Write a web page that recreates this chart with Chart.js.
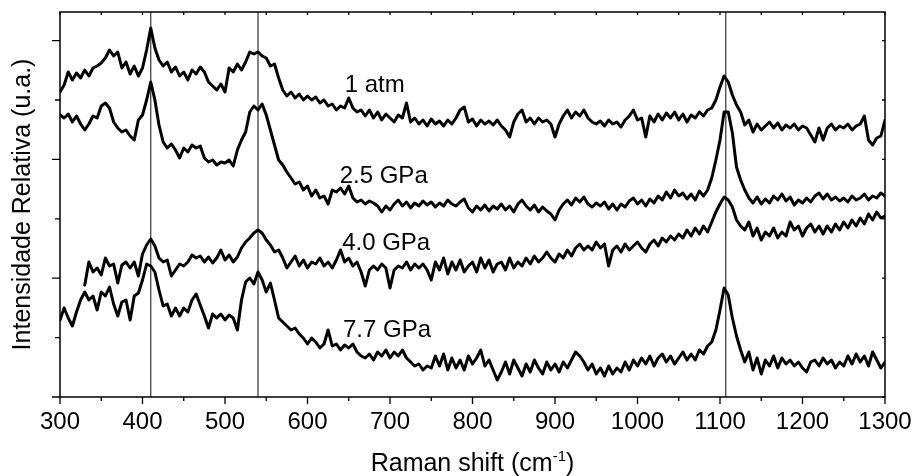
<!DOCTYPE html>
<html>
<head>
<meta charset="utf-8">
<script src="https://cdn.jsdelivr.net/npm/chart.js@4/dist/chart.umd.min.js"></script>
<style>
  html, body { margin: 0; padding: 0; background: #fff; }
  #wrap { width: 914px; height: 476px; }
</style>
</head>
<body>
<div id="wrap"><canvas id="raman" width="914" height="476"></canvas></div>
<script>
// Raman shift grid (cm-1), one reading every 5 cm-1
const shift = [];
for (let x = 300; x <= 1300; x += 5) shift.push(x);

// intensities (arbitrary units, stacked offsets as in the figure)
const atm1 = [
  305,312,325,317,324,319,327,321,329,331,
  334,339,347,341,345,329,335,323,331,321,
  329,347,369,349,337,331,335,325,330,321,
  325,317,327,323,330,325,315,311,307,313,
  305,329,325,333,327,335,345,343,345,341,
  339,331,333,319,307,301,305,299,303,297,
  301,297,300,294,297,291,293,287,291,289,
  299,289,285,287,281,287,279,285,277,283,
  279,275,282,279,294,275,279,273,277,271,
  278,273,276,271,277,273,279,287,290,275,
  278,271,277,273,276,272,277,271,267,260,
  275,283,287,275,279,273,279,275,277,273,
  260,273,281,287,279,285,281,287,279,275,
  273,276,271,277,273,275,270,277,281,287,
  277,279,260,281,275,283,277,284,279,285,
  277,283,275,282,279,285,281,287,289,297,
  310,321,315,302,292,285,272,277,265,273,
  267,271,275,269,274,267,272,269,273,267,
  271,269,262,255,269,257,269,273,267,271,
  269,273,267,271,273,281,257,252,259,261,
  277
];
const gpa25 = [
  282,279,283,275,281,273,267,273,281,279,
  291,294,289,275,269,265,267,261,257,277,
  282,297,315,297,272,255,249,253,247,239,
  249,245,252,249,251,239,235,237,232,235,
  234,237,231,247,257,265,285,291,287,293,
  282,267,252,237,232,225,219,213,215,207,
  211,201,207,199,201,193,207,205,209,203,
  211,199,195,197,193,196,194,191,185,191,
  187,193,197,191,195,189,194,191,196,192,
  195,190,194,191,197,193,191,195,198,189,
  185,191,187,192,186,191,188,193,187,191,
  185,193,197,191,187,192,185,190,186,183,
  177,187,193,197,192,199,195,200,193,190,
  194,191,195,188,193,187,193,190,196,199,
  193,197,191,198,194,201,197,205,199,207,
  201,204,198,203,197,206,201,207,219,237,
  257,285,285,264,230,217,207,199,194,200,
  193,198,194,201,197,203,196,200,192,197,
  194,199,195,201,204,198,203,197,200,196,
  199,195,201,197,199,203,197,201,199,204,
  201
];
const gpa40 = [
  null,null,null,null,null,null,112,135,125,129,
  122,139,131,133,114,132,135,129,135,121,
  143,152,158,151,139,135,137,121,127,133,
  131,135,142,139,141,135,140,134,139,147,
  137,142,135,140,149,155,159,164,167,164,
  157,152,145,147,139,129,135,141,131,137,
  129,135,133,139,131,135,129,137,147,135,
  139,131,135,125,111,127,131,127,133,129,
  109,127,131,129,135,127,133,129,133,127,
  117,135,127,139,123,135,127,137,125,131,
  135,125,139,129,137,125,133,135,127,139,
  129,135,131,139,133,141,135,139,145,139,
  135,143,139,147,141,149,153,147,151,147,
  155,149,153,131,147,151,145,153,147,151,
  155,149,145,153,157,151,159,155,161,157,
  163,159,167,161,169,163,171,165,175,185,
  193,200,197,190,177,171,167,175,161,169,
  157,165,161,169,159,165,161,175,167,171,
  161,169,173,165,171,163,171,165,173,167,
  175,169,177,171,179,173,183,177,185,179,
  181
];
const gpa77 = [
  77,89,79,71,85,97,105,97,101,87,
  105,101,110,93,81,95,97,77,101,104,
  117,133,131,125,107,91,93,81,89,81,
  89,85,97,103,92,81,69,83,79,83,
  77,82,79,67,97,115,119,113,125,117,
  105,114,97,79,75,71,67,69,63,59,
  53,59,55,49,53,67,51,53,47,52,
  49,53,45,41,39,43,37,45,41,47,
  39,45,41,47,39,35,31,33,27,31,
  29,41,31,43,27,39,29,37,27,41,
  33,39,47,31,37,27,17,25,35,23,
  37,29,21,33,25,37,29,23,35,27,
  33,25,35,29,37,45,41,35,27,33,
  23,29,21,31,23,29,25,35,27,37,
  31,39,33,41,31,39,43,35,41,33,
  39,45,37,43,37,47,43,51,55,67,
  87,109,102,79,61,47,35,45,27,39,
  23,37,31,41,29,39,33,37,31,35,
  29,25,35,37,31,39,33,37,29,35,
  31,41,33,43,35,41,31,45,37,29,
  35
];

const spectra = [atm1, gpa25, gpa40, gpa77];
const spectraNames = ['1 atm', '2.5 GPa', '4.0 GPa', '7.7 GPa'];
const labelX = [645, 639, 642, 643];
const labelY = [305, 214, 147, 60];

const peakLines = [410, 540, 1107];

const xTicks = [300, 400, 500, 600, 700, 800, 900, 1000, 1100, 1200, 1300];
const xMinorTicks = [350, 450, 550, 650, 750, 850, 950, 1050, 1150, 1250];
const yMajorTicks = [0, 118.8, 237.6, 356.4];
const yMinorTicks = [59.4, 178.2, 297];

const xTitle = 'Raman shift (cm';
const xTitleSup = '-1';
const yTitle = 'Intensidade Relativa (u.a.)';

const FONT = "'Liberation Sans', Arial, Helvetica, sans-serif";

function toPoints(values) {
    return values.map((v, i) => ({ x: shift[i], y: v }));
}

const datasets = spectra.map((vals, i) => ({
    label: spectraNames[i],
    data: toPoints(vals),
    borderColor: '#000',
    borderWidth: 3,
    borderJoinStyle: 'round',
    borderCapStyle: 'round',
    pointRadius: 0,
    tension: 0,
    spanGaps: false,
    order: 1
}));

peakLines.forEach(p => {
    datasets.push({
        label: 'peak ' + p,
        data: [{ x: p, y: 0 }, { x: p, y: 385 }],
        borderColor: '#333',
        borderWidth: 1.2,
        pointRadius: 0,
        order: 2
    });
});

// frame, ticks, tick labels and titles drawn from the chart's own scales
const framePlugin = {
    id: 'frame',
    afterDraw(chart) {
        const { ctx, chartArea: a, scales: { x, y } } = chart;
        ctx.save();
        ctx.strokeStyle = '#000';
        ctx.lineWidth = 1.5;
        ctx.strokeRect(a.left, a.top, a.right - a.left, a.bottom - a.top);

        ctx.lineWidth = 1.3;
        ctx.beginPath();
        xTicks.forEach(t => {
            const px = x.getPixelForValue(t);
            ctx.moveTo(px, a.bottom); ctx.lineTo(px, a.bottom + 7);
            ctx.moveTo(px, a.top); ctx.lineTo(px, a.top + 3);
        });
        xMinorTicks.forEach(t => {
            const px = x.getPixelForValue(t);
            ctx.moveTo(px, a.bottom); ctx.lineTo(px, a.bottom + 4);
            ctx.moveTo(px, a.top); ctx.lineTo(px, a.top + 3);
        });
        yMajorTicks.forEach(t => {
            const py = y.getPixelForValue(t);
            ctx.moveTo(a.left - 8, py); ctx.lineTo(a.left, py);
            ctx.moveTo(a.right, py); ctx.lineTo(a.right - 3, py);
        });
        yMinorTicks.forEach(t => {
            const py = y.getPixelForValue(t);
            ctx.moveTo(a.left - 5, py); ctx.lineTo(a.left, py);
            ctx.moveTo(a.right, py); ctx.lineTo(a.right - 3, py);
        });
        ctx.stroke();

        ctx.fillStyle = '#000';
        ctx.font = '24px ' + FONT;
        ctx.textAlign = 'center';
        ctx.textBaseline = 'alphabetic';
        xTicks.forEach(t => {
            ctx.fillText(String(t), x.getPixelForValue(t), 429);
        });

        // x title with superscript
        const cx = (a.left + a.right) / 2;
        ctx.font = '25px ' + FONT;
        const w1 = ctx.measureText(xTitle).width;
        const w3 = ctx.measureText(')').width;
        ctx.font = '15px ' + FONT;
        const w2 = ctx.measureText(xTitleSup).width;
        let sx = cx - (w1 + w2 + w3) / 2;
        ctx.textAlign = 'left';
        ctx.font = '25px ' + FONT;
        ctx.fillText(xTitle, sx, 471);
        ctx.font = '15px ' + FONT;
        ctx.fillText(xTitleSup, sx + w1, 461);
        ctx.font = '25px ' + FONT;
        ctx.fillText(')', sx + w1 + w2, 471);

        // y title
        ctx.save();
        ctx.translate(30, (a.top + a.bottom) / 2);
        ctx.rotate(-Math.PI / 2);
        ctx.textAlign = 'center';
        ctx.font = '25px ' + FONT;
        ctx.fillText(yTitle, 0, 0);
        ctx.restore();

        // spectrum labels
        ctx.font = '24px ' + FONT;
        ctx.textAlign = 'left';
        spectraNames.forEach((n, i) => {
            ctx.fillText(n, x.getPixelForValue(labelX[i]), y.getPixelForValue(labelY[i]));
        });
        ctx.restore();
    }
};

const canvas = document.getElementById('raman');
new Chart(canvas.getContext('2d'), {
    type: 'line',
    data: { datasets },
    options: {
        responsive: false,
        animation: false,
        layout: { padding: { left: 60, right: 29, top: 12, bottom: 79 } },
        plugins: { legend: { display: false }, tooltip: { enabled: false } },
        scales: {
            x: { type: 'linear', min: 300, max: 1300, display: false },
            y: { type: 'linear', min: 0, max: 385, display: false }
        }
    },
    plugins: [framePlugin]
});
</script>
</body>
</html>
